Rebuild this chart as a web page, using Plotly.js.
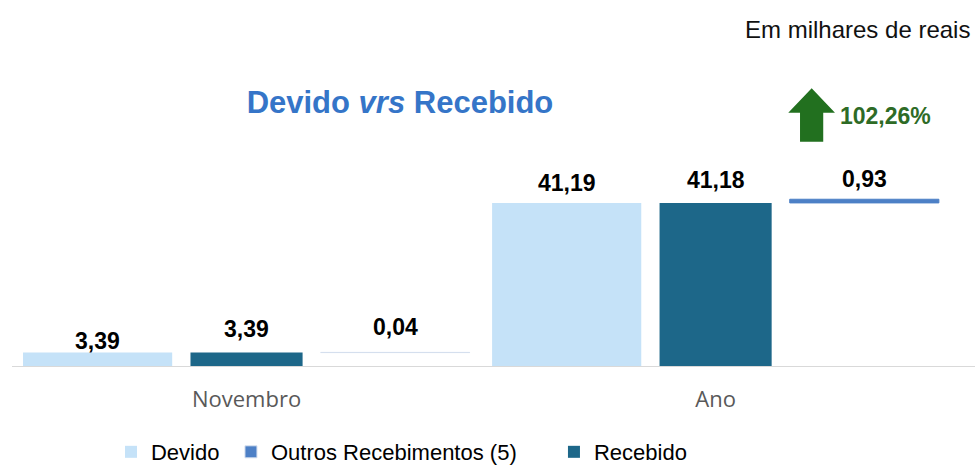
<!DOCTYPE html>
<html>
<head>
<meta charset="utf-8">
<script src="https://cdn.plot.ly/plotly-3.0.1.min.js"></script>
<style>html,body{margin:0;padding:0;background:#fff;}#chart{width:977px;height:466px;}</style>
</head>
<body>
<div id="chart"></div>
<script>
// ---- data ----
var categories = ['Novembro', 'Ano'];
var devido = [3.39, 41.19];
var recebido = [3.39, 41.18];
var outros = [0.04, 0.93];
var seriesNames = ['Devido', 'Outros Recebimentos (5)', 'Recebido'];
var unitNote = 'Em milhares de reais';
var growthLabel = '102,26%';
var chartTitle = 'Devido <i>vrs</i> Recebido';

// ---- styles ----
var colDevido = '#c5e2f8';
var colRecebido = '#1d6789';
var colOutros = '#4d80c6';
var labelFont = {family: 'Liberation Sans, Arial, sans-serif', size: 23, color: '#000'};
// per-point vertical lift (px) of the value labels above the bar tops
var liftDevido = [12, 20];
var liftRecebido = [24, 23];
var liftOutros = [25, 20];

function fmt(v) { return v.toFixed(2).replace('.', ','); }

var outrosTop = outros.map(function (v, i) { return recebido[i] + v; });

var traces = [
  {type: 'bar', name: seriesNames[0], x: categories, y: devido, legend: 'legend',
   offset: -0.4765, width: 0.318, marker: {color: colDevido, line: {width: 0}},
   hoverinfo: 'skip'},
  {type: 'bar', name: seriesNames[1], x: categories, y: outros, base: recebido, legend: 'legend2',
   offset: 0.158, width: 0.318,
   marker: {color: colOutros, line: {width: 1, color: ['#d5dfee', colOutros]}},
   hoverinfo: 'skip'},
  {type: 'bar', name: seriesNames[2], x: categories, y: recebido, legend: 'legend3',
   offset: -0.1195, width: 0.239, marker: {color: colRecebido, line: {width: 0}},
   hoverinfo: 'skip'}
];

var annotations = [];
categories.forEach(function (c, i) {
  annotations.push({x: i - 0.4765 + 0.159, y: devido[i], xref: 'x', yref: 'y',
    text: '<b>' + fmt(devido[i]) + '</b>', showarrow: false, yanchor: 'middle',
    yshift: liftDevido[i], font: labelFont});
  annotations.push({x: i - 0.1195 + 0.1195, y: recebido[i], xref: 'x', yref: 'y',
    text: '<b>' + fmt(recebido[i]) + '</b>', showarrow: false, yanchor: 'middle',
    yshift: liftRecebido[i], font: labelFont});
  annotations.push({x: i + 0.158 + 0.159, y: outrosTop[i], xref: 'x', yref: 'y',
    text: '<b>' + fmt(outros[i]) + '</b>', showarrow: false, yanchor: 'middle',
    yshift: liftOutros[i], font: labelFont});
});
annotations.push({xref: 'paper', yref: 'paper', x: 0.9969, y: 1.101, xanchor: 'right',
  yanchor: 'middle', text: unitNote, showarrow: false,
  font: {family: 'Liberation Sans, Arial, sans-serif', size: 24, color: '#111'}});
annotations.push({xref: 'paper', yref: 'paper', x: 0.858, y: 0.817, xanchor: 'left',
  yanchor: 'middle', text: '<b>' + growthLabel + '</b>', showarrow: false,
  font: {family: 'Liberation Sans, Arial, sans-serif', size: 23, color: '#2e6b26'}});

function legendAt(xc) {
  return {orientation: 'h', xref: 'container', x: xc, xanchor: 'left',
    yref: 'container', y: 0.03, yanchor: 'middle',
    font: {family: 'Liberation Sans, Arial, sans-serif', size: 22, color: '#000'},
    itemclick: false, itemdoubleclick: false};
}

var layout = {
  width: 977, height: 466,
  margin: {l: 12, r: 2, t: 60, b: 100, autoexpand: false},
  paper_bgcolor: '#fff', plot_bgcolor: '#fff',
  title: {text: chartTitle, xref: 'container', yref: 'container', x: 0.4094, y: 0.78,
    xanchor: 'center', yanchor: 'middle',
    font: {family: 'Liberation Sans, Arial, sans-serif', size: 31, color: '#3575c8', weight: 'bold'}},
  xaxis: {type: 'category', range: [-0.5, 1.553], showgrid: false, zeroline: false,
    showline: true, linecolor: '#d9d9d9', linewidth: 1, ticks: '',
    ticklabelstandoff: 14, automargin: false,
    tickfont: {family: 'Open Sans, sans-serif', size: 22, color: '#595959'},
    fixedrange: true},
  yaxis: {range: [0, 77.27], visible: false, showgrid: false, zeroline: false, fixedrange: true, automargin: false},
  barmode: 'overlay',
  showlegend: true,
  legend: legendAt(0.1136),
  legend2: legendAt(0.2364),
  legend3: legendAt(0.567),
  annotations: annotations,
  shapes: [{type: 'path', xref: 'paper', yref: 'paper',
    path: 'M 0.8304,0.9075 L 0.8546,0.8277 L 0.8424,0.8277 L 0.8424,0.7330 L 0.8183,0.7330 L 0.8183,0.8277 L 0.8061,0.8277 Z',
    fillcolor: '#22701f', line: {width: 0}}]
};

Plotly.newPlot('chart', traces, layout, {displayModeBar: false, staticPlot: true});
</script>
</body>
</html>
